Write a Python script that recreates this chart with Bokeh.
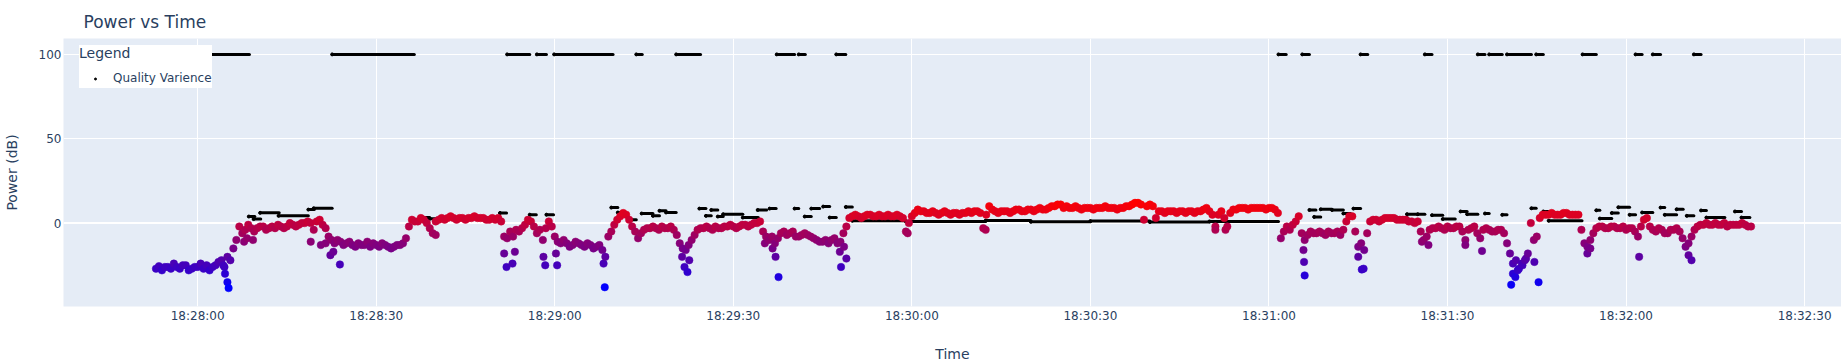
import numpy as np
import pandas as pd
from bokeh.plotting import figure
from bokeh.models import (ColumnDataSource, LinearColorMapper, Range1d, FixedTicker,
                          DatetimeTickFormatter, Span, Legend, LegendItem)
from bokeh.embed import file_html
from bokeh.resources import INLINE

# ---------------- data ----------------
DAY = "2024-01-01"
REF_TIME = "18:28:00"          # offsets below are seconds relative to this time
power_first_offset_s = -7.0    # power samples are 0.5 s apart starting here
power_step_s = 0.5

power_db = [
    -27, -25.5, -28, -26, -26, -27, -24, -26, -27, -25, -25, -28, -27, -26,      # -7 .. -0.5
    -26, -24, -27, -25, -28, -26, -25, -23, -22, -26, -20, -22, -15, -10,        # 0 .. 6.5
    -2, -6, -4, -1, -3, -5, -3, -2, -2, -4, -3, -2, -3, -1,                      # 7 .. 13.5
    -2, -3, -2, 0, -1, -2, -1, 0, 0, 1, 0, -4, 1, 2,                             # 14 .. 20.5
    -1, -3, -8, -10, -12, -10, -11, -13, -12, -11, -13, -14, -12, -13,           # 21 .. 27.5
    -13, -11, -14, -12, -13, -14, -12, -13, -14, -15, -14, -13, -13, -12,        # 28 .. 34.5
    -9, -2, 2, 1, 1, 3, 2, 0, -3, -6, 1, 2, 3, 2,                                # 35 .. 41.5
    3, 4, 3, 2, 3, 3, 2, 3, 3, 4, 3, 3, 3, 2,                                    # 42 .. 48.5
    2, 3, 2, 3, 1, -8, -9, -5, -8, -4, -5, -3, -1, 2,                            # 49 .. 55.5
    1, -2, -6, -4, -10, -3, 1, -2, -8, -11, -12, -10, -12, -14,                  # 56 .. 62.5
    -13, -11, -12, -13, -14, -12, -13, -15, -14, -13, -16, -20, -8, -5,          # 63 .. 69.5
    -1, 2, 4, 6, 5, 2, -2, -5, -9, -6, -4, -3, -3, -2,                           # 70 .. 76.5
    -3, -4, -2, -3, -3, -2, -4, -7, -12, -15, -16, -13, -10, -7,                 # 77 .. 83.5
    -4, -3, -3, -2, -3, -4, -2, -3, -3, -2, -2, -1, -2, -3,                      # 84 .. 90.5
    -2, -1, -1, -2, -1, 0, 0, 1, -5, -8, -10, -8, -12, -9,                       # 91 .. 97.5
    -6, -5, -7, -6, -5, -8, -8, -7, -6, -7, -8, -9, -10, -11,                    # 98 .. 104.5
    -11, -10, -12, -10, -9, -12, -11, -6, -2, 3, 4, 5, 4, 3,                     # 105 .. 111.5
    4, 5, 5, 4, 4, 5, 4, 4, 5, 4, 4, 5, 4, 3,                                    # 112 .. 118.5
    -5, 0, 4, 6, 8, 7, 7, 6, 6, 7, 6, 5, 6, 7,                                   # 119 .. 125.5
    6, 5, 6, 6, 5, 6, 6, 7, 6, 7, 7, 6, -3, 5,                                   # 126 .. 132.5
    10, 8, 7, 6, 7, 7, 7, 6, 7, 8, 8, 7, 7, 8,                                   # 133 .. 139.5
    8, 7, 8, 9, 8, 8, 9, 10, 10, 11, 11, 9, 10, 9,                               # 140 .. 146.5
    9, 10, 9, 8, 9, 9, 9, 8, 9, 9, 9, 10, 9, 9,                                  # 147 .. 153.5
    9, 8, 9, 9, 10, 10, 11, 12, 12, 11, 2, 10, 11, 10,                           # 154 .. 160.5
    3, 7, 7, 6, 7, 7, 7, 6, 7, 7, 6, 7, 7, 6,                                    # 161 .. 167.5
    7, 7, 8, 9, 7, 5, -2, 5, 7, 3, -2, 6, 8, 8,                                  # 168 .. 174.5
    9, 9, 9, 8, 9, 9, 9, 9, 9, 8, 9, 9, 8, 6,                                    # 175 .. 181.5
    -9, -5, -2, -4, -1, 1, 4, -6, -10, -7, -5, -6, -6, -5,                       # 182 .. 188.5
    -6, -7, -5, -6, -6, -5, -7, -4, 1, 4, 4, -5, -14, -12,                       # 189 .. 195.5
    -16, -6, 1, 2, 2, 1, 2, 3, 3, 3, 3, 2, 2, 2,                                 # 196 .. 202.5
    2, 1, 1, 0, 1, -5, -10, -8, -4, -3, -3, -2, -3, -4,                          # 203 .. 209.5
    -2, -3, -3, -2, -2, -5, -10, -4, -3, -2, -6, -9, -4, -3,                     # 210 .. 216.5
    -4, -5, -5, -4, -4, -6, -12, -18, -24, -22, -27, -24, -22, -18,              # 217 .. 223.5
    0, -10, -8, 3, 5, 5, 5, 6, 5, 5, 5, 6, 6, 5,                                 # 224 .. 230.5
    5, 5, 5, -4, -12, -14, -10, -6, -3, -2, -2, -3, -3, -2,                      # 231 .. 237.5
    -2, -3, -3, -2, -4, -3, -3, -5, -8, -2, 2, 3, -2, -4,                        # 238 .. 244.5
    -5, -3, -4, -6, -6, -4, -4, -3, -5, -9, -14, -12, -8, -4,                    # 245 .. 251.5
    -2, -1, -1, 0, -1, -1, 0, -1, -1, 0, -2, -1, -1, -1,                         # 252 .. 258.5
    -1, 0, -1, -2, -2,                                                           # 259 .. 261
]

# extra samples inside the short dips / isolated low points
dip_offset_s = [4.3, 4.6, 5.0, 5.2, 7.8, 8.3, 9.3, 19.0, 20.7, 21.5, 22.3, 22.8, 23.9,
                40.0, 51.5, 51.9, 52.9, 53.3, 58.1, 58.4, 60.2, 60.4, 68.2, 68.4,
                81.4, 81.8, 82.3, 82.6, 95.3, 96.6, 97.1, 97.6,
                107.9, 108.1, 108.6, 109.0, 119.3, 132.4, 171.0, 172.7,
                185.8, 185.9, 186.0, 195.0, 195.6, 195.9, 205.7, 206.8, 213.0, 215.8,
                220.7, 221.0, 221.4, 221.8, 222.6, 223.2, 224.6, 225.3,
                233.5, 234.0, 242.2, 250.5, 251.0]
dip_db = [-25, -30, -35, -38.5, -11, -9, -10, -11, -13, -12, -19, -17, -24.5,
          -7, -18, -26, -24, -17, -20, -25, -18, -25, -24, -38,
          -20, -26, -29, -22, -12, -15, -20, -32,
          -17, -26, -14, -21, -6, -4, -4, -4,
          -16, -23, -31, -20, -27.5, -27, -11, -13, -13, -16.5,
          -36.5, -30, -32, -28, -25, -21, -23, -35,
          -18, -15, -20, -19, -22]

# "Quality Varience": runs of constant value (start s, end s, value)
qual_start_s = [-7.1, 8.6, 9.4, 10.5, 13.6, 18.6, 19.5, 22.6, 37.4, 39.0, 50.8, 52.0, 55.8,
                57.0, 58.6, 59.9, 69.5, 70.6, 72.9, 73.7, 74.6, 76.5, 77.6, 78.7, 80.4,
                84.3, 85.4, 86.3, 87.4, 88.3, 91.6, 94.1, 96.1, 97.3, 100.3, 101.0, 102.0,
                103.1, 105.1, 106.2, 107.3, 108.9, 110.0, 119.0, 132.4, 140.0, 150.0, 160.0,
                170.0, 181.6, 185.6, 186.8, 187.6, 188.7, 190.6, 192.5, 194.2, 195.4,
                201.5, 203.2, 205.0, 206.2, 207.4, 209.2, 212.2, 213.3, 215.1, 216.3,
                217.0, 219.2, 220.0, 224.1, 224.9, 226.1, 227.0, 232.7, 235.0, 235.6,
                237.6, 238.7, 240.6, 241.6, 242.7, 244.5, 245.8, 246.5, 248.5, 250.2,
                251.4, 252.6, 253.5, 258.3, 259.4]
qual_end_s = [8.7, 9.6, 10.6, 13.7, 18.6, 19.6, 22.6, 36.4, 39.0, 41.3, 51.9, 55.8, 56.9,
              58.6, 59.8, 69.8, 70.6, 71.8, 73.7, 74.7, 76.5, 77.6, 78.7, 80.4, 84.5,
              85.4, 86.3, 87.4, 88.3, 91.6, 94.2, 95.6, 97.2, 100.3, 101.0, 102.1, 103.1,
              104.5, 106.2, 107.3, 108.9, 110.0, 119.0, 132.4, 140.0, 150.0, 160.0, 170.0,
              181.6, 182.9, 186.8, 187.9, 188.7, 190.6, 192.5, 193.7, 195.4, 196.6,
              203.2, 205.0, 206.2, 207.4, 209.2, 211.3, 213.3, 215.1, 216.3, 217.0,
              219.2, 220.0, 224.1, 224.9, 226.1, 227.0, 232.6, 235.0, 235.6, 237.6,
              238.7, 240.6, 241.6, 242.7, 244.5, 245.8, 246.5, 248.5, 249.6, 251.4,
              252.6, 253.5, 256.6, 259.4, 260.8]
qual_value = [100, 3.9, 2.4, 6.1, 4.3, 8.0, 8.8, 100, 3.3, 2.6, 6.0, 100, 5.0,
              100, 5.0, 100, 9.2, 6.3, 2.0, 100, 5.7, 4.3, 7.3, 6.3, 100,
              8.6, 4.3, 7.8, 3.9, 5.3, 3.3, 7.8, 8.6, 100, 8.6, 100, 3.9,
              8.6, 9.8, 3.3, 100, 9.6, 1.4, 1.0, 1.5, 0.8, 1.2, 0.6,
              1.0, 100, 100, 7.8, 3.7, 8.2, 7.8, 5.7, 8.6, 100,
              3.3, 5.3, 5.3, 100, 4.7, 2.4, 6.9, 5.3, 100, 5.7,
              100, 4.9, 100, 8.8, 100, 6.9, 1.4, 100, 7.6, 2.7,
              6.0, 9.4, 4.9, 100, 6.3, 100, 9.2, 4.9, 8.2, 4.3,
              100, 7.5, 3.3, 6.9, 3.3]

x_tick_labels = ["18:28:00", "18:28:30", "18:29:00", "18:29:30", "18:30:00",
                 "18:30:30", "18:31:00", "18:31:30", "18:32:00", "18:32:30"]
y_ticks = [-50, 0, 50, 100]

# ---------------- helpers ----------------
ref_ms = pd.Timestamp(f"{DAY} {REF_TIME}").value / 1e6


def to_ms(offsets):
    return ref_ms + np.asarray(offsets, dtype=float) * 1000.0


main_off = power_first_offset_s + power_step_s * np.arange(len(power_db))
all_off = np.concatenate([main_off, np.asarray(dip_offset_s, float)])
all_db = np.concatenate([np.asarray(power_db, float), np.asarray(dip_db, float)])
order = np.argsort(all_off, kind="stable")
power_src = ColumnDataSource(dict(t=to_ms(all_off[order]), db=all_db[order]))

qual_src = ColumnDataSource(dict(t0=to_ms(qual_start_s), t1=to_ms(qual_end_s), q=qual_value))

tick_ms = [pd.Timestamp(f"{DAY} {s}").value / 1e6 for s in x_tick_labels]

FONT = "DejaVu Sans"
TXT = "#2a3f5f"

p = figure(width=1841, height=364, x_axis_type="datetime", output_backend="svg",
           toolbar_location=None, title="Power vs Time",
           x_range=Range1d(to_ms(-22.54), to_ms(276.2)),
           y_range=Range1d(-49.41, 109.41),
           min_border_left=60, min_border_right=0, min_border_top=38, min_border_bottom=56)

p.background_fill_color = "#E5ECF6"
p.border_fill_color = "white"
p.outline_line_color = None

p.title.text_font = FONT
p.title.text_font_size = "17px"
p.title.text_font_style = "normal"
p.title.text_color = TXT
p.title.offset = 20
p.title.standoff = 14

p.xgrid.grid_line_color = "white"
p.ygrid.grid_line_color = "white"
p.xgrid.grid_line_width = 1
p.ygrid.grid_line_width = 1

p.add_layout(Span(location=0, dimension="width", line_color="white",
                  line_width=2, level="underlay"))

p.xaxis.ticker = FixedTicker(ticks=tick_ms)
fmt = "%H:%M:%S"
p.xaxis.formatter = DatetimeTickFormatter(milliseconds=fmt, seconds=fmt, minsec=fmt,
                                          minutes=fmt, hourmin=fmt, hours=fmt)
p.yaxis.ticker = FixedTicker(ticks=y_ticks)

for ax in (p.xaxis[0], p.yaxis[0]):
    ax.axis_line_color = None
    ax.major_tick_line_color = None
    ax.minor_tick_line_color = None
    ax.major_tick_out = 0
    ax.major_tick_in = 0
    ax.minor_tick_out = 0
    ax.minor_tick_in = 0
    ax.major_label_text_font = FONT
    ax.major_label_text_font_size = "12px"
    ax.major_label_text_color = TXT
    ax.axis_label_text_font = FONT
    ax.axis_label_text_font_size = "14px"
    ax.axis_label_text_font_style = "normal"
    ax.axis_label_text_color = TXT

p.xaxis.axis_label = "Time"
p.xaxis.major_label_standoff = 2
p.xaxis.axis_label_standoff = 20
p.yaxis.axis_label = "Power (dB)"
p.yaxis.major_label_standoff = 2
p.yaxis.axis_label_standoff = 16

# quality variance (drawn first, below the power trace)
p.segment(x0="t0", y0="q", x1="t1", y1="q", source=qual_src,
          line_color="black", line_width=3, line_cap="round")
q_pts = p.scatter(x="t0", y="q", source=qual_src, size=3, marker="circle",
                  fill_color="black", line_color="black")

# power trace coloured by value
palette = ["#%02x00%02x" % (i, 255 - i) for i in range(256)]
mapper = LinearColorMapper(palette=palette, low=float(all_db.min()), high=float(all_db.max()))
p.scatter(x="t", y="db", source=power_src, size=7.5, marker="circle",
          fill_color={"field": "db", "transform": mapper},
          line_color={"field": "db", "transform": mapper}, line_width=0.5)

legend = Legend(items=[LegendItem(label="Quality Varience", renderers=[q_pts])],
                title="Legend", location=(16, 218),
                background_fill_color="white", background_fill_alpha=1.0,
                border_line_color=None, padding=6, spacing=0, margin=0,
                title_standoff=7, glyph_width=32, glyph_height=5, label_height=20,
                label_standoff=2,
                title_text_font=FONT, title_text_font_size="14px",
                title_text_font_style="normal", title_text_color=TXT,
                label_text_font=FONT, label_text_font_size="12px", label_text_color=TXT)
p.add_layout(legend)

open("out.html", "w").write(file_html(p, INLINE))
